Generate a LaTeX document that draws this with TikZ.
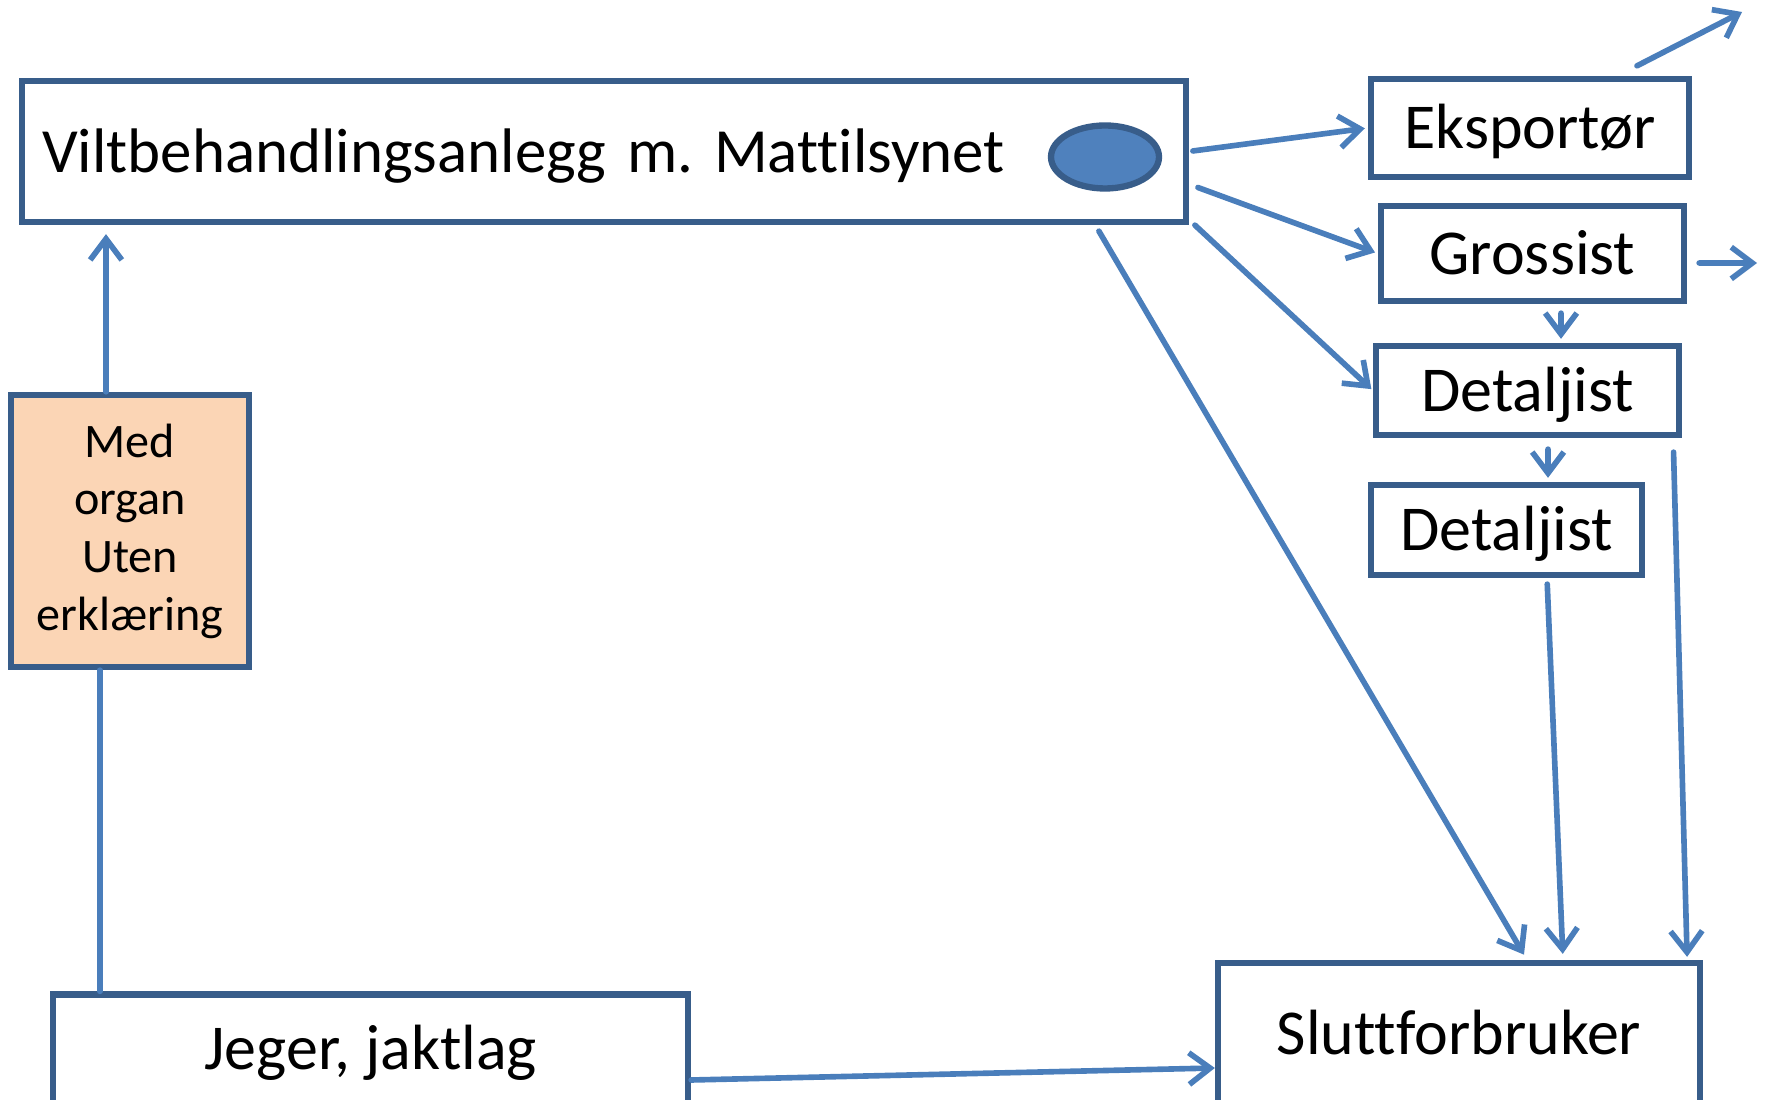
\documentclass[tikz,border=0pt]{standalone}
\usepackage{fontspec}
\setmainfont[Ligatures=NoCommon]{Carlito}
\usetikzlibrary{arrows.meta, shapes.geometric}
\definecolor{boxblue}{HTML}{385D8A}
\definecolor{lineblue}{HTML}{4A7EBB}
\definecolor{ovalblue}{HTML}{4F81BD}
\definecolor{organfill}{HTML}{FBD5B5}
\frenchspacing

\begin{document}
\begin{tikzpicture}[x=0.1mm, y=-0.1mm,
  >={Straight Barb[length=6pt,width=9pt]},
  box/.style={shape=rectangle, draw=boxblue, line width=1.8pt, fill=white, inner sep=0pt, font=\fontsize{18.2}{22}\selectfont},
  textbox/.style={box, text height=15.4pt, text depth=3.5pt},
  flow/.style={draw=lineblue, line width=1.6pt, line cap=round}]
\useasboundingbox (0,0) rectangle (1768,1100);
\node[textbox, text width=112.35mm, inner xsep=2mm, minimum height=14.1mm, align=left, font=\fontsize{17.9}{22}\selectfont] (main) at (604,151.5) {Viltbehandlingsanlegg m. Mattilsynet};
\node[shape=ellipse, draw=boxblue, fill=ovalblue, line width=1.8pt, inner sep=0pt, minimum width=10.8mm, minimum height=6.3mm] (oval) at (1105,157) {};
\node[textbox, minimum width=31.8mm, minimum height=9.8mm] (eksp) at (1530,128) {Eksportør};
\node[textbox, minimum width=30.3mm, minimum height=9.5mm] (gross) at (1532.5,253.5) {Grossist};
\node[textbox, minimum width=30.3mm, minimum height=8.9mm] (det1) at (1527.5,390.5) {Detaljist};
\node[textbox, minimum width=27.1mm, minimum height=9mm] (det2) at (1506.5,530) {Detaljist};
\node[box, minimum width=48.2mm, minimum height=14mm] (slutt) at (1459,1033) {Sluttforbruker};
\node[textbox, minimum width=63.5mm, minimum height=10.9mm] (jeger) at (370.5,1049) {Jeger, jaktlag};
\node[box, fill=organfill, minimum width=23.8mm, minimum height=27.2mm, align=center, font=\fontsize{13.7}{16.4}\selectfont] (organ) at (130,531) {Med\\organ\\Uten\\erklæring};
\coordinate (ut1) at (1742,12);
\coordinate (ut2) at (1757,263);
\draw[flow, ->, shorten >=0.9mm] ([xshift=-2.4mm]organ.north) -- ([xshift=-2.4mm]organ.north |- main.south);
\draw[flow] ([xshift=5mm]jeger.north west) -- ([xshift=5mm]jeger.north west |- organ.south);
\draw[flow, ->] ([yshift=-3.1mm]jeger.east) -- ([yshift=-3.5mm]slutt.west);
\draw[flow, ->, shorten <=0.4mm, shorten >=0.3mm] (main.east) -- (eksp.west);
\draw[flow, ->, shorten >=0.3mm] ([xshift=0.9mm,yshift=-3.6mm]main.east) -- (gross.west);
\draw[flow, ->, shorten >=0.2mm] ([xshift=0.6mm]main.south east) -- (det1.west);
\draw[flow, ->, shorten >=0.6mm] ([xshift=-9mm,yshift=-0.6mm]main.south east) -- ([xshift=6.8mm]slutt.north);
\draw[flow, ->] ([xshift=10.7mm,yshift=1mm]eksp.north) -- (ut1);
\draw[flow, ->] ([xshift=1.2mm,yshift=-0.95mm]gross.east) -- (ut2);
\draw[flow, ->, shorten <=0.9mm, shorten >=0.4mm] ([xshift=2.85mm]gross.south) -- ([xshift=3.35mm]det1.north);
\draw[flow, ->, shorten <=1.1mm, shorten >=0.4mm] ([xshift=2.05mm]det1.south) -- ([xshift=4.15mm]det2.north);
\draw[flow, ->, shorten <=0.6mm, shorten >=0.6mm] ([xshift=4.05mm]det2.south) -- ([xshift=10.4mm]slutt.north);
\draw[flow, ->, shorten <=1.4mm, shorten >=0.3mm] ([xshift=-0.9mm]det1.south east) -- ([xshift=-1.6mm]slutt.north east);
\end{tikzpicture}
\end{document}
